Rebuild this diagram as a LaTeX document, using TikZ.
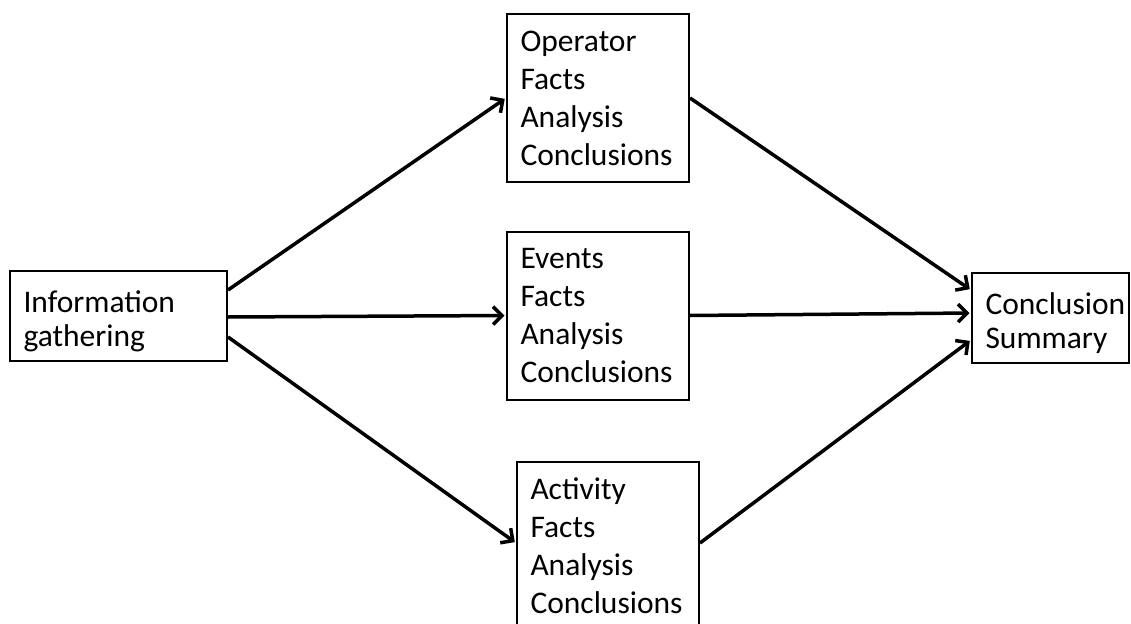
\documentclass[tikz,border=0pt]{standalone}
\usepackage{fontspec}
\setmainfont{Carlito}
\usetikzlibrary{arrows.meta}
\newcommand{\firstline}{\rule{0pt}{32pt}}
\begin{document}
\begin{tikzpicture}[x=1pt,y=-1pt,
  box/.style={draw=black, line width=2pt, fill=white, align=left,
    inner xsep=13.5pt, inner ysep=0pt, anchor=center},
  tallbox/.style={box, minimum width=182pt, minimum height=168pt, text width=155pt,
    font=\fontsize{31.5}{38}\selectfont},
  shortbox/.style={box, minimum height=90pt,
    font=\fontsize{31.5}{34}\selectfont},
  link/.style={line width=3.5pt, -{Straight Barb[length=9pt,width=18pt,line width=3.5pt]},
    shorten >=1.5pt}
]
\clip (0,0) rectangle (1131,623);
\fill[white] (0,0) rectangle (1131,623);

% boxes
\node[shortbox, minimum width=217pt, text width=190pt] (info) at (118.5,316) {\firstline Information\\gathering};
\node[tallbox] (op)  at (598,98)    {Operator\\Facts\\Analysis\\Conclusions};
\node[tallbox] (ev)  at (598,315.5) {Events\\Facts\\Analysis\\Conclusions};
\node[tallbox] (act) at (608,546)   {Activity\\Facts\\Analysis\\Conclusions};
\node[shortbox, minimum width=157pt, text width=130pt] (conc) at (1050.5,318) {\firstline Conclusion\\Summary};

% connectors
\draw[link] ([yshift=26pt]info.east) -- (op.west);
\draw[link] ([yshift=-1pt]info.east) -- (ev.west);
\draw[link] ([yshift=-21pt]info.east) -- ([yshift=3pt]act.west);
\draw[link] (op.east) -- ([yshift=28pt]conc.west);
\draw[link] (ev.east) -- ([yshift=5pt]conc.west);
\draw[link] ([yshift=3pt]act.east) -- ([yshift=-22pt]conc.west);
\end{tikzpicture}
\end{document}
